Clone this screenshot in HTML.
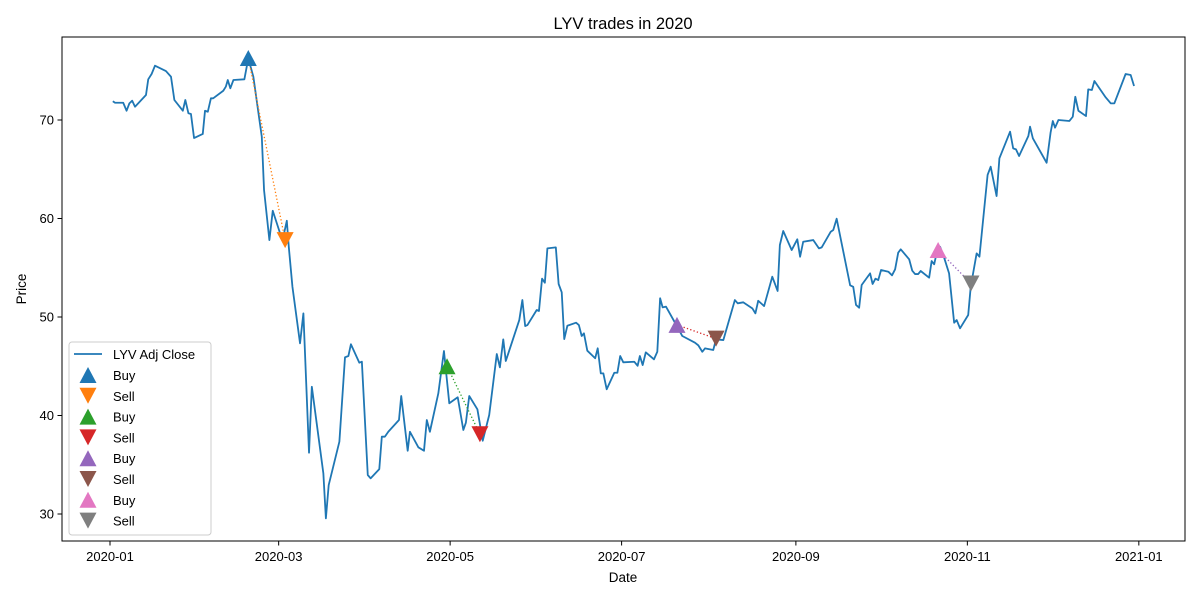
<!DOCTYPE html>
<html><head><meta charset="utf-8"><style>
body{margin:0;background:#fff;}
svg text{font-family:"Liberation Sans","DejaVu Sans",sans-serif;fill:#000;}
</style></head><body>
<svg id="chart" width="1200" height="600" xmlns="http://www.w3.org/2000/svg">
<rect width="1200" height="600" fill="#fff"/>
<text x="623" y="29" font-size="16.5" text-anchor="middle">LYV trades in 2020</text>
<g id="plot"></g>
<rect x="62" y="37" width="1123" height="504" fill="none" stroke="#000" stroke-width="1"/>
<text x="623" y="582" font-size="13.5" text-anchor="middle">Date</text>
<text x="26" y="289" font-size="13.5" text-anchor="middle" transform="rotate(-90 26 289)">Price</text>
<g id="legend"></g>
</svg>
<script>
const days=[1,1.8,4.7,5.9,6.9,7.9,8.9,12.8,13.6,14.8,16,19.9,21.7,22.9,25.9,26.8,27.9,28.8,29.9,33,33.8,34.8,35.9,36.7,40.3,41.2,41.9,42.8,43.9,47.8,49.2,51,54,54.8,56.7,57.9,60.5,61.4,62.9,63.6,64.9,67.6,68.8,70.8,71.8,75.9,76.8,77.8,81.6,83.6,84.8,85.7,88.7,89.6,91.7,92.7,95.8,96.7,97.8,99,102.8,103.6,105.9,106.7,109.7,111.7,112.7,113.8,116.8,118.8,120.7,123.7,125.7,126.6,127.8,130.7,132.6,134.9,137.6,138.7,139.9,140.8,145.6,146.7,147.7,148.5,151.8,152.6,153.7,154.7,155.6,158.6,159.6,160.7,161.6,162.7,165.8,166.8,167.8,168.6,169.8,172.6,173.5,174.6,175.5,176.7,179.4,180.5,181.5,182.6,186.5,187.7,188.5,189.5,190.6,193.5,194.7,195.7,196.6,197.8,201.8,203.6,208.1,209.3,210.7,211.7,214.6,215.6,218.2,222.3,223.3,225.3,228.5,229.6,230.6,232.7,235.6,237.5,238.3,239.5,242.5,244.5,245.5,246.6,250.2,252.2,253.2,256.4,257.3,258.5,263.3,264.4,265.4,266.5,267.4,270.4,271.3,272.3,273.3,274.3,276.9,278.2,279.3,280.4,281.3,284.3,285.4,286.4,287.5,288.4,291.4,292.3,293.2,294.3,295.3,296.7,298.5,300.3,301.2,302.4,305.3,306.2,308.3,309.3,312.2,313.3,315.4,316.4,320.2,321.3,322.3,323.4,326.7,327.3,328.3,333.2,334.6,335.4,336.2,337.4,341.3,342.5,343.4,344.5,347.2,348,349.3,350.2,354.2,356,357.3,361.3,363.1,364.3];
const prices=[71.9,71.75,71.75,70.94,71.69,71.96,71.35,72.54,74.13,74.67,75.51,74.97,74.39,72.03,70.94,72.03,70.68,70.61,68.17,68.58,70.94,70.84,72.2,72.2,72.97,73.38,74.06,73.22,74.06,74.13,76.26,74.39,68.3,62.89,57.81,60.79,58.5,57.81,59.77,57.13,53.07,47.33,50.37,36.22,42.92,34.13,29.56,32.94,37.34,45.91,46.04,47.23,45.36,45.46,33.96,33.62,34.56,37.85,37.85,38.35,39.54,41.98,36.42,38.35,36.77,36.42,39.54,38.35,42.25,46.55,41.24,41.85,38.53,39.27,41.98,40.63,37.44,40.05,46.24,44.89,47.73,45.53,49.69,51.72,49.08,49.18,50.71,50.61,53.89,53.48,56.97,57.07,53.35,52.51,47.76,49.11,49.42,49.18,48.07,48.34,46.58,45.81,46.82,44.28,44.28,42.66,44.34,44.34,46.04,45.4,45.46,45.05,46.04,45.12,46.41,45.7,46.47,51.9,50.98,51.05,49.01,48.07,47.39,47.12,46.47,46.82,46.65,47.73,47.66,51.72,51.39,51.49,50.88,50.37,51.65,51.11,54.09,52.64,57.31,58.73,56.8,57.89,56.12,57.64,57.81,56.97,57.07,58.66,58.83,59.98,53.22,53.07,51.22,50.94,53.25,54.43,53.35,53.89,53.75,54.77,54.6,54.23,54.84,56.53,56.87,55.86,54.7,54.36,54.36,54.67,53.99,55.68,55.35,56.8,57.13,56.06,54.43,49.42,49.69,48.85,50.2,53.07,56.46,56.12,64.42,65.26,62.28,66.11,68.81,67.12,67.02,66.34,68.37,69.32,68.14,65.66,68.71,69.9,69.22,70,69.9,70.33,72.36,70.94,70.4,73.11,73.05,73.96,72.3,71.69,71.69,74.67,74.57,73.45];
const buyDays=[49.2,119.9,201.7,294.6];
const buyPrices=[76.3,45.0,49.2,56.8];
const sellDays=[62.3,131.6,215.6,306.3];
const sellPrices=[57.8,38.1,47.8,53.4];
const xTickDays=[0,60,121,182,244,305,366];
const xTickLabels=["2020-01","2020-03","2020-05","2020-07","2020-09","2020-11","2021-01"];
const yTicks=[30,40,50,60,70];

const NS="http://www.w3.org/2000/svg";
const X=d=>110+d*2.811;
const Y=p=>120+(70-p)*9.85;
const plot=document.getElementById('plot');
function mk(tag,attrs,parent){const e=document.createElementNS(NS,tag);for(const k in attrs)e.setAttribute(k,attrs[k]);(parent||plot).appendChild(e);return e;}

xTickDays.forEach((d,i)=>{
  const t=mk('line',{x1:X(d),x2:X(d),y1:541,y2:545.5,stroke:'#000'});
  
  
  const l=mk('text',{x:X(d),y:561,'font-size':13,'text-anchor':'middle'});
  l.textContent=xTickLabels[i];
  
  
});
yTicks.forEach(v=>{
  const t=mk('line',{x1:57.5,x2:62,y1:Y(v),y2:Y(v),stroke:'#000'});
  
  
  const l=mk('text',{x:54,y:Y(v)+4.5,'font-size':13,'text-anchor':'end'});
  l.textContent=v;
  
  
});

const line=mk('polyline',{points:days.map((d,i)=>X(d)+','+Y(prices[i])).join(' '),fill:'none',stroke:'#1f77b4','stroke-width':1.8,'stroke-linejoin':'round'});



const buyColors=['#1f77b4','#2ca02c','#9467bd','#e377c2'];
const sellColors=['#ff7f0e','#d62728','#8c564b','#7f7f7f'];
const pairColors=['#ff7f0e','#2ca02c','#d62728','#9467bd'];
function tri(cx,cy,up,color,name,parent){
  const h=8,w=8.5;
  const pts=up?`${cx},${cy-h} ${cx-w},${cy+h} ${cx+w},${cy+h}`:`${cx},${cy+h} ${cx-w},${cy-h} ${cx+w},${cy-h}`;
  const e=mk('polygon',{points:pts,fill:color},parent);
  
  
  return e;
}
buyDays.forEach((d,i)=>{
  const ln=mk('line',{x1:X(d),y1:Y(buyPrices[i]),x2:X(sellDays[i]),y2:Y(sellPrices[i]),stroke:pairColors[i],'stroke-width':1.3,'stroke-dasharray':'1.3,2.2'});
  
  
});
buyDays.forEach((d,i)=>{
  tri(X(d),Y(buyPrices[i]),true,buyColors[i],'buy-marker');
  tri(X(sellDays[i]),Y(sellPrices[i]),false,sellColors[i],'sell-marker');
});

const lg=document.getElementById('legend');
mk('rect',{x:69,y:342,width:142,height:193,rx:3,fill:'#fff','fill-opacity':0.8,stroke:'#ccc'},lg);
mk('line',{x1:74,x2:102,y1:354,y2:354,stroke:'#1f77b4','stroke-width':1.8},lg);
const t0=mk('text',{x:113,y:359,'font-size':13},lg);t0.textContent='LYV Adj Close';


for(let i=0;i<8;i++){
  const y=375+i*20.8;const pair=Math.floor(i/2);const buy=i%2===0;
  tri(88,y,buy,buy?buyColors[pair]:sellColors[pair],'legend-marker',lg);
  const t=mk('text',{x:113,y:y+5,'font-size':13},lg);t.textContent=buy?'Buy':'Sell';
  
  
}
</script>
</body></html>
